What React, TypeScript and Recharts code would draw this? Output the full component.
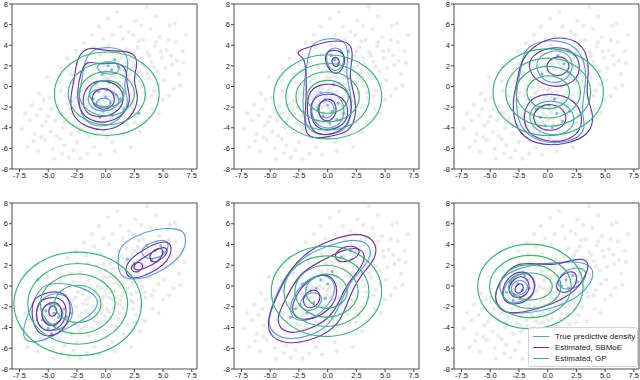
import React from 'react';
import { ScatterChart, Scatter, XAxis, YAxis, ReferenceArea } from 'recharts';

type Pt = [number, number];

const X_DOMAIN: [number, number] = [-8.15, 7.95];
const Y_DOMAIN: [number, number] = [-8, 8];
const X_TICKS = [-7.5, -5, -2.5, 0, 2.5, 5, 7.5];
const Y_TICKS = [-8, -6, -4, -2, 0, 2, 4, 6, 8];

const BLUE = '#5b9fd8';
const PURPLE = '#6c36aa';
const GREEN = '#38b66e';
const FONT = '"Liberation Sans", Arial, sans-serif';

const legendItems = [
  { label: 'True predictive density', color: BLUE },
  { label: 'Estimated, SBMoE', color: PURPLE },
  { label: 'Estimated, GP', color: GREEN },
];

// grey background sample cloud (same in all panels)
const cloud: Pt[] = [
  [-6.8,-5.9],[-6.2,-4.6],[-5.9,-6.3],[-5.5,-3.8],[-5.3,-5.2],[-5.0,-2.9],[-4.8,-4.4],[-4.6,-6.0],[-4.4,-3.3],[-4.2,-1.9],
  [-4.0,-5.1],[-3.8,-2.6],[-3.7,-4.0],[-3.5,-0.9],[-3.4,-3.1],[-3.2,-6.9],[-3.1,-2.2],[-3.0,-4.6],[-2.9,-1.4],[-2.8,0.4],
  [-2.7,-3.6],[-2.6,-2.0],[-2.5,-5.4],[-2.4,-0.6],[-2.3,-2.9],[-2.2,1.3],[-2.1,-4.1],[-2.0,-1.7],[-1.9,-3.3],[-1.8,0.1],
  [-1.7,-2.4],[-1.6,2.2],[-1.5,-4.8],[-1.4,-1.1],[-1.3,-3.0],[-1.2,0.8],[-1.1,-2.0],[-1.0,-5.9],[-0.9,-0.4],[-0.8,1.9],
  [-0.7,-3.6],[-0.6,-1.5],[-0.5,3.1],[-0.4,-2.6],[-0.3,0.5],[-0.2,-4.3],[-0.1,-0.9],[0.0,1.5],[0.1,-2.2],[0.2,-0.2],
  [0.3,4.0],[0.4,-3.1],[0.5,1.0],[0.6,-1.3],[0.7,2.6],[0.8,-0.5],[0.9,-3.9],[1.0,0.3],[1.1,3.4],[1.2,-1.8],
  [1.3,1.7],[1.4,-0.9],[1.5,4.6],[1.6,0.9],[1.7,-2.7],[1.8,2.3],[1.9,-0.2],[2.0,5.3],[2.1,1.2],[2.2,-1.4],
  [2.3,3.0],[2.4,0.4],[2.5,-3.5],[2.6,2.0],[2.7,-0.6],[2.8,3.8],[2.9,1.4],[3.0,-2.0],[3.1,2.7],[3.2,0.0],
  [3.3,4.5],[3.4,1.9],[3.5,-1.1],[3.6,3.3],[3.8,0.8],[3.9,5.6],[4.0,2.4],[4.2,-0.4],[4.3,3.9],[4.5,1.5],
  [4.7,4.8],[4.9,2.8],[5.1,0.6],[5.3,3.5],[5.6,5.9],[5.8,2.1],[6.1,4.3],[6.4,1.2],[6.7,3.4],[7.0,5.0],
  [-7.0,-2.6],[-6.4,-1.8],[-5.8,-0.7],[-5.1,0.9],[-4.5,-7.0],[-3.9,1.8],[-3.3,2.7],[-2.6,3.4],[-1.9,4.2],[-1.2,5.0],
  [-0.6,5.8],[0.2,6.6],[1.0,7.2],[2.6,6.4],[4.4,6.8],[6.0,6.1],[-0.5,-6.6],[0.6,-5.4],[1.5,-4.6],[2.2,-5.9],
  [3.4,-3.4],[4.1,-2.2],[5.0,-1.3],[5.9,-0.2],[6.5,0.1],[-6.6,-3.3],[-5.7,-2.2],[-4.9,-1.1],[-3.6,-5.7],[-2.8,-6.2],
  [-1.6,-6.5],[-0.3,-1.9],[0.3,-1.1],[-0.8,-2.9],[0.9,-1.7],[-1.3,-0.1],[1.6,0.2],[-2.0,-0.8],[0.4,2.2],[-0.4,-0.2],
  [1.2,-2.6],[2.4,-2.2],[-2.4,-3.8],[-1.0,-3.4],[0.0,-3.3],[0.7,0.2],[-0.1,0.9],[1.9,1.0],[-1.7,-1.3],[3.6,7.7],
  [-2.9,-2.6],[-2.6,-1.1],[-2.3,-4.4],[-2.1,-2.6],[-1.9,-0.3],[-1.8,-3.9],[-1.6,-1.8],[-1.5,0.5],[-1.4,-2.7],[-1.2,-4.0],
  [-1.1,-0.7],[-0.9,-2.4],[-0.8,-4.6],[-0.7,0.0],[-0.6,-2.0],[-0.5,1.4],[-0.4,-3.5],[-0.3,-1.2],[-0.2,2.1],[-0.1,-2.9],
  [0.0,-0.4],[0.1,-4.9],[0.2,0.8],[0.3,-2.5],[0.4,-0.6],[0.5,-3.8],[0.6,1.7],[0.7,-2.1],[0.8,0.9],[0.9,-1.1],
  [1.0,2.3],[1.1,-3.2],[1.2,0.0],[1.3,-1.4],[1.4,2.8],[1.5,-2.1],[1.6,1.5],[1.7,-0.6],[1.8,3.6],[1.9,-1.8],
  [2.0,0.7],[2.1,2.6],[2.2,-0.8],[2.3,1.8],[2.4,-1.6],[2.5,3.4],[2.6,0.9],[2.7,-2.8],[2.8,1.2],[2.9,4.4],
  [3.0,0.5],[3.2,2.2],[3.4,-0.6],[3.6,1.2],[3.8,3.0],[4.0,-0.9],[4.2,1.9],[4.4,4.3],[4.6,0.2],[4.8,3.4],
  [5.2,1.8],[5.5,4.5],[5.7,3.0],[6.2,2.5],[6.8,2.3],[-3.3,-1.7],[-3.6,-3.5],[-3.9,-0.4],[-4.1,-2.6],[-4.3,-4.8],
  [-4.7,-2.2],[-5.2,-3.4],[-5.6,-4.9],[-6.0,-2.8],[-6.3,-5.3],[-3.0,1.2],[-2.5,2.2],[-1.7,3.0],[-1.0,3.8],[-0.2,4.6],
  [0.6,5.0],[1.3,5.8],[2.4,5.0],[3.1,5.9],[-7.3,-4.1],[-5.4,-1.3],[-4.0,0.5],[0.8,-6.3],[1.9,-3.7],[3.0,-4.4],
  [4.6,-2.6],[5.5,-0.9],[-2.2,-7.0],[-3.8,-6.5],
];

// ---------- panel 1 ----------
const p1Pts: Pt[] = [[0.2,2.0],[0.5,1.6],[-0.3,1.2],[1.1,1.9],[0.8,2.6],[-0.6,-0.5],[0.0,-1.0],[0.4,-1.6],[-0.8,-1.8],[0.9,-0.8],[-0.2,-2.4],[0.6,-2.8],[1.3,-1.2],[-1.1,-1.2],[0.1,-0.3],[1.6,-2.2],[-0.5,-3.0],[0.3,0.4],[2.9,-2.6],[-0.9,0.3]];
const p1Gp: Pt[][] = [
  [[5.15,-0.7],[3.67,2.47],[0.1,3.79],[-3.47,2.47],[-4.95,-0.7],[-3.47,-3.87],[0.1,-5.19],[3.67,-3.87]],
  [[3.82,-0.7],[2.73,1.65],[0.1,2.63],[-2.53,1.65],[-3.62,-0.7],[-2.53,-3.05],[0.1,-4.03],[2.73,-3.05]],
  [[2.76,-0.7],[1.98,0.98],[0.1,1.68],[-1.78,0.98],[-2.56,-0.7],[-1.78,-2.38],[0.1,-3.08],[1.98,-2.38]],
  [[1.76,-0.7],[1.27,0.32],[0.1,0.74],[-1.07,0.32],[-1.56,-0.7],[-1.07,-1.72],[0.1,-2.14],[1.27,-1.72]],
];
const p1Sbmoe: Pt[][] = [
  [[-1.27,3.84],[-0.12,3.46],[1.33,3.46],[2.63,3.26],[2.77,1.92],[2.34,0.64],[2.92,-0.96],[2.49,-2.56],[1.33,-3.84],[-0.12,-4.32],[-1.56,-4.0],[-2.86,-3.04],[-3.15,-1.28],[-2.72,0.64],[-2.57,2.24],[-2.14,3.36]],
  [[-1.71,2.56],[-0.40,2.08],[0.90,2.4],[1.91,1.76],[1.76,0.32],[2.25,-1.28],[1.62,-2.72],[0.17,-3.58],[-1.42,-3.36],[-2.37,-2.24],[-2.49,-0.32],[-2.14,1.44]],
  [[-1.42,0.48],[0.17,0.64],[1.33,-0.06],[1.68,-1.28],[1.04,-2.56],[-0.40,-3.04],[-1.71,-2.72],[-2.14,-1.28]],
  [[-0.98,-0.32],[0.17,-0.06],[0.9,-0.96],[0.61,-2.08],[-0.55,-2.34],[-1.33,-1.44]],
];
const p1True: Pt[][] = [
  [[-1.13,3.68],[0.46,3.84],[1.76,3.52],[2.05,1.92],[1.47,0.0],[2.05,-1.28],[1.62,-2.72],[0.32,-3.9],[-1.27,-3.84],[-2.20,-2.72],[-2.37,-0.96],[-1.99,0.96],[-1.85,2.56]],
  [[-0.69,2.24],[0.46,2.5],[1.33,2.08],[1.04,1.12],[-0.12,1.22],[-0.75,1.6]],
  [[-1.42,-0.48],[-0.40,-0.16],[0.9,-0.48],[1.33,-1.6],[0.46,-2.4],[-0.98,-2.4],[-1.62,-1.44]],
  [[-0.84,-1.28],[0.17,-1.02],[0.61,-1.66],[0.03,-2.08],[-0.84,-1.98]],
];

// ---------- panel 2 ----------
const p2Pts: Pt[] = [[0.6,2.6],[0.9,2.2],[0.3,3.0],[1.2,3.3],[0.0,-1.8],[0.4,-2.4],[-0.4,-2.9],[0.8,-3.2],[-0.2,-1.3],[0.2,-3.6],[0.9,-1.6],[-0.8,-2.2],[1.4,-2.6],[-0.6,-0.6],[0.5,0.2],[1.8,3.4]];
const p2Gp: Pt[][] = [
  [[5.21,-1],[3.68,2.2],[0,3.52],[-3.68,2.2],[-5.21,-1],[-3.68,-4.2],[0,-5.52],[3.68,-4.2]],
  [[4.05,-1],[2.86,1.53],[0,2.58],[-2.86,1.53],[-4.05,-1],[-2.86,-3.53],[0,-4.58],[2.86,-3.53]],
  [[3.06,-1],[2.16,0.9],[0,1.69],[-2.16,0.9],[-3.06,-1],[-2.16,-2.9],[0,-3.69],[2.16,-2.9]],
  [[2.0,-1],[1.41,0.25],[0,0.77],[-1.41,0.25],[-2.0,-1],[-1.41,-2.25],[0,-2.77],[1.41,-2.25]],
];
const p2Sbmoe: Pt[][] = [
  [[-2.54,3.52],[-1.40,3.90],[-0.06,4.38],[1.43,4.48],[2.18,3.9],[2.12,2.30],[1.82,1.02],[2.48,-1.22],[2.42,-3.46],[1.58,-4.58],[-0.06,-4.9],[-1.70,-5.12],[-2.06,-3.78],[-1.85,-1.22],[-1.85,1.18],[-2.0,2.78],[-2.66,3.10]],
  [[-0.36,3.26],[0.69,3.65],[1.58,3.10],[1.43,1.82],[0.69,1.02],[-0.06,1.82]],
  [[0.39,2.78],[0.93,2.88],[1.07,2.14],[0.69,1.82],[0.33,2.3]],
  [[-1.70,-0.26],[-0.21,0.38],[1.43,0.0],[2.18,-1.22],[1.94,-3.78],[0.39,-4.74],[-1.40,-4.67],[-1.85,-2.50]],
  [[-1.40,-1.06],[-0.06,-0.64],[1.28,-0.90],[1.88,-2.18],[1.58,-3.62],[0.39,-4.26],[-0.96,-4.16],[-1.55,-2.82]],
  [[-0.66,-1.38],[0.24,-1.06],[0.84,-1.86],[0.63,-3.14],[-0.36,-3.52],[-0.87,-2.5]],
];
const p2True: Pt[][] = [
  [[-1.40,4.22],[-0.06,4.70],[1.43,4.61],[1.88,3.26],[1.52,1.34],[2.12,-0.90],[2.03,-3.46],[1.13,-4.58],[-0.51,-4.74],[-1.85,-4.26],[-2.24,-1.86],[-2.0,0.70],[-1.70,2.94]],
  [[-0.06,3.58],[0.99,3.90],[1.52,2.94],[1.22,1.66],[0.39,1.41],[-0.15,2.46]],
  [[-1.40,-0.90],[-0.06,-0.42],[1.13,-0.90],[1.58,-2.50],[0.99,-3.94],[-0.51,-4.16],[-1.46,-3.14]],
  [[-0.81,-1.54],[0.09,-1.22],[0.69,-2.02],[0.39,-2.98],[-0.51,-3.14],[-0.96,-2.34]],
];

// ---------- panel 3 ----------
const p3Pts: Pt[] = [[0.9,3.0],[1.4,2.2],[0.3,2.6],[1.8,1.4],[-0.5,1.2],[0.1,-1.8],[0.8,-2.6],[-0.6,-3.0],[1.3,-3.4],[0.4,-4.0],[-1.0,-2.2],[1.9,-2.4],[0.6,-1.2],[-0.2,-3.8],[2.3,3.1]];
const p3Gp: Pt[][] = [
  [[5.37,-0.55],[3.81,2.74],[0.05,4.11],[-3.71,2.74],[-5.27,-0.55],[-3.71,-3.84],[0.05,-5.21],[3.81,-3.84]],
  [[4.15,-0.55],[2.95,2.04],[0.05,3.11],[-2.85,2.04],[-4.05,-0.55],[-2.85,-3.14],[0.05,-4.21],[2.95,-3.14]],
  [[3.16,-0.55],[2.25,1.41],[0.05,2.22],[-2.15,1.41],[-3.06,-0.55],[-2.15,-2.51],[0.05,-3.32],[2.25,-2.51]],
  [[2.10,-0.55],[1.50,0.70],[0.05,1.22],[-1.40,0.70],[-2.0,-0.55],[-1.40,-1.80],[0.05,-2.32],[1.50,-1.80]],
];
const p3Sbmoe: Pt[][] = [
  [[-2.41,2.56],[-0.67,4.50],[1.50,4.89],[3.24,4.02],[3.68,1.59],[3.24,-0.83],[4.11,-2.78],[3.68,-4.72],[1.50,-5.69],[-1.11,-5.69],[-2.85,-4.23],[-3.11,-1.32],[-2.58,0.62]],
  [[-1.54,3.05],[0.63,4.02],[2.63,3.34],[2.98,1.11],[1.50,-0.15],[-0.67,0.14],[-1.72,1.59]],
  [[0.02,2.76],[1.50,3.05],[2.11,1.79],[1.07,0.82],[-0.23,1.40]],
  [[-1.98,-1.32],[0.02,-0.54],[2.37,-1.13],[3.24,-3.26],[2.37,-5.20],[-0.24,-5.50],[-2.24,-4.23]],
  [[-1.11,-2.10],[0.37,-1.51],[1.76,-2.49],[1.50,-4.04],[-0.24,-4.43],[-1.37,-3.46]],
];
const p3True: Pt[][] = [
  [[-1.98,4.02],[0.63,4.70],[2.98,3.73],[3.50,0.62],[2.80,-2.30],[3.50,-4.23],[1.93,-5.50],[-0.67,-5.50],[-2.58,-4.04],[-2.85,-0.83],[-2.24,2.08]],
  [[-0.84,3.05],[1.07,3.73],[2.37,2.56],[1.93,0.62],[0.02,0.14],[-1.11,1.59]],
  [[-1.54,-1.81],[0.63,-1.13],[2.37,-2.30],[2.37,-4.23],[0.19,-5.01],[-1.72,-3.75]],
];

// ---------- panel 4 ----------
const p4Pts: Pt[] = [[-4.8,-1.8],[-4.5,-2.6],[-5.2,-2.4],[-4.1,-3.0],[-5.5,-3.3],[-4.4,-3.8],[-3.6,-2.2],[-5.0,-4.1],[-3.4,-3.0],[-5.9,0.6],[-4.7,-4.6],[-3.0,-2.6],[3.6,3.9],[4.3,3.4],[4.8,3.9],[2.5,2.2],[4.0,2.5],[1.9,2.6],[5.0,3.3]];
const p4Gp: Pt[][] = [
  [[3.72,-1.72],[1.92,2.19],[-2.43,3.81],[-6.78,2.19],[-8.58,-1.72],[-6.78,-5.63],[-2.43,-7.25],[1.92,-5.63]],
  [[2.38,-1.72],[0.97,1.33],[-2.43,2.59],[-5.83,1.33],[-7.24,-1.72],[-5.83,-4.77],[-2.43,-6.03],[0.97,-4.77]],
  [[1.17,-1.72],[0.12,0.54],[-2.43,1.47],[-4.98,0.54],[-6.03,-1.72],[-4.98,-3.98],[-2.43,-4.91],[0.12,-3.98]],
  [[-0.19,-1.72],[-0.85,-0.31],[-2.43,0.27],[-4.01,-0.31],[-4.67,-1.72],[-4.01,-3.13],[-2.43,-3.71],[-0.85,-3.13]],
];
const p4Sbmoe: Pt[][] = [
  [[-5.90,-0.96],[-4.74,-0.48],[-3.58,-0.64],[-3.01,-1.60],[-3.15,-3.36],[-4.02,-4.64],[-5.32,-4.96],[-6.18,-4.16],[-6.47,-2.56],[-6.33,-1.44]],
  [[-5.61,-1.28],[-4.60,-1.02],[-3.73,-1.28],[-3.35,-2.24],[-3.58,-3.52],[-4.45,-4.32],[-5.46,-4.32],[-6.04,-3.36],[-6.04,-2.08]],
  [[-5.17,-1.76],[-4.45,-1.44],[-3.87,-1.92],[-3.73,-3.04],[-4.31,-3.84],[-5.09,-3.84],[-5.61,-3.04],[-5.55,-2.24]],
  [[-4.88,-1.92],[-4.39,-1.86],[-4.16,-2.56],[-4.60,-3.04],[-5.03,-2.72]],
  [[1.91,2.40],[3.06,3.36],[4.51,4.22],[5.52,4.32],[5.81,3.52],[5.38,2.40],[4.51,1.60],[3.06,0.80],[2.05,0.70],[1.68,1.44]],
  [[2.5,2.2],[3.6,2.95],[4.7,3.7],[5.35,3.75],[5.35,3.0],[4.5,2.3],[3.1,1.5],[2.4,1.55]],
  [[2.25,2.08],[3.06,2.40],[3.35,1.76],[2.77,1.28],[2.20,1.44]],
  [[3.93,3.20],[4.65,3.78],[5.09,3.46],[4.80,2.56],[4.08,2.18],[3.79,2.72]],
];
const p4True: Pt[][] = [
  [[-5.61,0.16],[-3.87,0.32],[-2.43,0.0],[-0.84,-0.80],[-0.55,-1.92],[-1.56,-3.04],[-3.01,-3.84],[-4.74,-4.96],[-6.47,-5.60],[-7.28,-4.96],[-7.05,-3.52],[-6.33,-1.60]],
  [[-5.46,-0.96],[-4.16,-0.64],[-3.15,-1.12],[-2.72,-2.56],[-3.29,-3.84],[-4.74,-4.48],[-5.90,-4.0],[-6.18,-2.56]],
  [[-5.32,-1.76],[-4.31,-1.60],[-3.58,-2.40],[-3.87,-3.52],[-5.03,-3.84],[-5.67,-2.88]],
  [[1.18,3.84],[2.49,4.80],[4.22,5.50],[6.24,5.60],[6.97,5.12],[6.97,3.68],[6.24,2.56],[5.09,1.60],[3.64,0.80],[2.20,0.58],[1.18,0.96],[1.04,2.40]],
  [[3.06,3.68],[4.22,4.32],[5.23,4.48],[5.52,4.0],[5.23,3.04],[4.22,2.56],[3.21,2.72]],
];

// ---------- panel 5 ----------
const p5Pts: Pt[] = [[-1.5,-0.5],[-2.0,-1.0],[-1.0,-0.2],[-2.4,-1.8],[-0.6,0.6],[-1.8,-2.6],[-0.2,-1.2],[-2.8,-2.2],[0.4,1.4],[1.2,2.8],[-1.2,-1.6],[-3.2,-3.0],[2.0,3.4],[0.0,0.2],[-2.2,0.2]];
const p5Gp: Pt[][] = [
  [[5.22,-0.5],[3.66,2.91],[-0.1,4.32],[-3.86,2.91],[-5.42,-0.5],[-3.86,-3.91],[-0.1,-5.32],[3.66,-3.91]],
  [[4.0,-0.5],[2.8,2.17],[-0.1,3.27],[-3.0,2.17],[-4.2,-0.5],[-3.0,-3.17],[-0.1,-4.27],[2.8,-3.17]],
  [[2.95,-0.5],[2.06,1.46],[-0.1,2.27],[-2.26,1.46],[-3.15,-0.5],[-2.26,-2.46],[-0.1,-3.27],[2.06,-2.46]],
  [[1.9,-0.5],[1.31,0.79],[-0.1,1.33],[-1.51,0.79],[-2.1,-0.5],[-1.51,-1.79],[-0.1,-2.33],[1.31,-1.79]],
];
const p5Sbmoe: Pt[][] = [
  [[-4.58,-1.35],[-3.28,1.73],[-1.54,3.47],[-0.20,4.24],[2.37,5.20],[4.11,4.63],[4.37,2.70],[2.81,1.06],[1.76,-1.35],[1.07,-3.76],[-1.11,-5.20],[-3.72,-5.69],[-5.19,-4.72],[-5.19,-3.08]],
  [[-3.72,-1.35],[-2.41,1.35],[-0.67,2.31],[1.50,3.66],[3.24,3.66],[3.24,2.02],[1.50,0.10],[0.63,-2.80],[-1.54,-4.24],[-3.72,-4.72],[-4.58,-3.28]],
  [[-2.85,-0.87],[-1.54,0.77],[0.20,1.35],[1.07,-0.39],[0.20,-2.51],[-1.98,-3.47],[-3.28,-2.80]],
  [[-1.98,-0.58],[-0.85,-0.19],[-0.50,-1.35],[-1.37,-2.31],[-2.24,-1.83]],
  [[0.63,3.47],[2.20,4.05],[3.07,3.28],[1.94,2.31],[0.63,2.31]],
];
const p5True: Pt[][] = [
  [[-4.85,-1.83],[-3.72,1.06],[-1.98,2.99],[0.20,3.95],[2.37,4.63],[3.85,3.95],[3.68,2.31],[1.94,0.58],[1.07,-1.83],[0.02,-4.05],[-1.98,-5.01],[-4.15,-5.20],[-5.37,-3.76]],
  [[-3.28,-1.35],[-1.98,0.58],[-0.24,1.35],[0.89,0.10],[0.20,-1.83],[-1.54,-3.47],[-3.28,-3.28]],
  [[-2.41,-1.15],[-1.1,-0.4],[-0.24,-1.15],[-1.1,-2.5],[-2.41,-2.3]],
];

// ---------- panel 6 ----------
const p6Pts: Pt[] = [[-2.6,0.2],[-2.2,-0.4],[-2.9,-0.8],[-1.8,0.6],[-3.2,0.4],[-2.4,-1.2],[-1.6,-0.2],[-3.6,-0.6],[-2.0,1.0],[1.6,0.6],[2.2,1.0],[1.8,-0.2],[2.6,0.4],[1.2,0.0],[-3.0,-1.4]];
const p6Gp: Pt[][] = [
  [[3.58,-0.05],[2.09,3.15],[-1.5,4.47],[-5.09,3.15],[-6.58,-0.05],[-5.09,-3.25],[-1.5,-4.57],[2.09,-3.25]],
  [[2.44,-0.05],[1.29,2.30],[-1.5,3.28],[-4.29,2.30],[-5.44,-0.05],[-4.29,-2.40],[-1.5,-3.38],[1.29,-2.40]],
  [[1.45,-0.05],[0.59,1.60],[-1.5,2.28],[-3.59,1.60],[-4.45,-0.05],[-3.59,-1.70],[-1.5,-2.38],[0.59,-1.70]],
  [[0.61,-0.05],[-0.01,0.97],[-1.5,1.39],[-2.99,0.97],[-3.61,-0.05],[-2.99,-1.07],[-1.5,-1.49],[-0.01,-1.07]],
];
const p6Sbmoe: Pt[][] = [
  [[-4.45,-0.26],[-3.57,1.51],[-2.39,2.24],[-0.91,2.15],[0.56,1.99],[2.04,2.47],[3.22,2.69],[3.66,1.99],[3.22,0.87],[2.63,-0.26],[1.15,-1.38],[-0.32,-2.02],[-2.09,-2.56],[-3.57,-2.66],[-4.31,-2.02],[-4.60,-1.06]],
  [[-4.01,-0.26],[-3.27,1.09],[-2.09,1.51],[-1.21,0.87],[-1.06,-0.42],[-1.65,-1.38],[-2.83,-1.86],[-3.86,-1.54]],
  [[-3.42,-0.10],[-2.83,0.87],[-1.95,0.96],[-1.50,0.06],[-1.80,-0.90],[-2.68,-1.22],[-3.33,-0.83]],
  [[-2.92,-0.26],[-2.45,0.38],[-2.04,0.0],[-2.24,-0.64],[-2.74,-0.74]],
  [[0.71,0.22],[1.30,1.19],[2.18,1.51],[2.63,0.96],[2.33,-0.26],[1.45,-0.74],[0.80,-0.42]],
];
const p6True: Pt[][] = [
  [[-4.60,-0.74],[-4.01,0.87],[-2.68,1.67],[-1.21,2.05],[0.56,2.24],[2.33,2.37],[3.51,2.15],[4.10,1.35],[3.66,0.06],[2.63,-1.06],[1.15,-1.86],[-0.62,-2.44],[-2.39,-2.66],[-3.86,-2.56],[-4.51,-1.86]],
  [[-3.86,-0.26],[-3.13,0.96],[-1.95,1.35],[-1.06,0.70],[-1.06,-0.58],[-2.09,-1.54],[-3.27,-1.70],[-3.92,-1.22]],
  [[-3.27,-0.10],[-2.68,0.64],[-1.86,0.45],[-1.65,-0.26],[-2.24,-0.90],[-3.04,-0.90]],
  [[0.86,0.70],[1.74,1.67],[2.92,1.83],[3.51,1.19],[2.92,0.06],[1.74,-0.42],[0.91,-0.10]],
];

const toXY = (pts: Pt[]) => pts.map(([x, y]) => ({ x, y }));

const greyDot = (p: any) => <circle cx={p.cx} cy={p.cy} r={2.1} fill="#c2c2c2" fillOpacity={0.34} />;
const blueDot = (p: any) => <circle cx={p.cx} cy={p.cy} r={1.6} fill="#6fabe0" fillOpacity={0.85} />;
const noDot = () => <g />;

const tickStyle = { fontSize: 7.5, fill: '#222', fontFamily: FONT };

function contours(list: Pt[][], color: string, key: string) {
  return list.map((c, i) => (
    <Scatter
      key={key + i}
      data={toXY(c)}
      shape={noDot}
      line={{ stroke: color, strokeWidth: 1.15 }}
      lineType="joint"
      lineJointType="basisClosed"
      isAnimationActive={false}
    />
  ));
}

function Panel(props: any) {
  const { left, top, plotH, gp, sbmoe, truth, pts } = props;
  const W = 202;
  const H = 6 + plotH + 20;
  return (
    <div style={{ position: 'absolute', left, top, width: W, height: H }}>
      <ScatterChart width={W} height={H} margin={{ top: 6, right: 3, bottom: 0, left: 0 }}>
        <XAxis
          type="number"
          dataKey="x"
          domain={X_DOMAIN}
          ticks={X_TICKS}
          interval={0}
          allowDataOverflow
          height={20}
          tickFormatter={(v: number) => v.toFixed(1)}
          tick={tickStyle}
          tickSize={3}
          tickMargin={1}
          axisLine={false}
          tickLine={{ stroke: '#444' }}
        />
        <YAxis
          type="number"
          dataKey="y"
          domain={Y_DOMAIN}
          ticks={Y_TICKS}
          interval={0}
          allowDataOverflow
          width={14}
          tick={tickStyle}
          tickSize={3}
          tickMargin={1}
          axisLine={false}
          tickLine={{ stroke: '#444' }}
        />
        <Scatter data={toXY(cloud)} shape={greyDot} isAnimationActive={false} />
        <Scatter data={toXY(pts)} shape={blueDot} isAnimationActive={false} />
        {contours(truth, BLUE, 't')}
        {contours(sbmoe, PURPLE, 's')}
        {contours(gp, GREEN, 'g')}
        <ReferenceArea
          x1={X_DOMAIN[0]}
          x2={X_DOMAIN[1]}
          y1={Y_DOMAIN[0]}
          y2={Y_DOMAIN[1]}
          fill="none"
          stroke="#3a3a3a"
          strokeWidth={0.9}
          ifOverflow="visible"
        />
      </ScatterChart>
    </div>
  );
}

export default function App() {
  const cols = [-2, 220, 440];
  const rows = [
    { top: -2, plotH: 165 },
    { top: 197, plotH: 166 },
  ];
  const panels = [
    { gp: p1Gp, sbmoe: p1Sbmoe, truth: p1True, pts: p1Pts },
    { gp: p2Gp, sbmoe: p2Sbmoe, truth: p2True, pts: p2Pts },
    { gp: p3Gp, sbmoe: p3Sbmoe, truth: p3True, pts: p3Pts },
    { gp: p4Gp, sbmoe: p4Sbmoe, truth: p4True, pts: p4Pts },
    { gp: p5Gp, sbmoe: p5Sbmoe, truth: p5True, pts: p5Pts },
    { gp: p6Gp, sbmoe: p6Sbmoe, truth: p6True, pts: p6Pts },
  ];
  return (
    <div style={{ position: 'absolute', left: 0, top: 0, width: 640, height: 380, background: '#fff', overflow: 'hidden' }}>
      {panels.map((p, i) => (
        <Panel
          key={i}
          left={cols[i % 3]}
          top={rows[Math.floor(i / 3)].top}
          plotH={rows[Math.floor(i / 3)].plotH}
          {...p}
        />
      ))}
      <div
        style={{
          position: 'absolute',
          left: 528,
          top: 327,
          width: 108,
          height: 38,
          border: '1px solid #d4d4d4',
          borderRadius: 3,
          background: 'rgba(255,255,255,0.85)',
          fontFamily: FONT,
          fontSize: 8,
          color: '#222',
        }}
      >
        {legendItems.map((it, i) => (
          <div key={it.label} style={{ position: 'absolute', left: 4, top: 3 + i * 11.2, height: 10, display: 'flex', alignItems: 'center', whiteSpace: 'nowrap' }}>
            <span style={{ display: 'inline-block', width: 16, height: 0, borderTop: `1.5px solid ${it.color}`, marginRight: 6 }} />
            <span>{it.label}</span>
          </div>
        ))}
      </div>
    </div>
  );
}
